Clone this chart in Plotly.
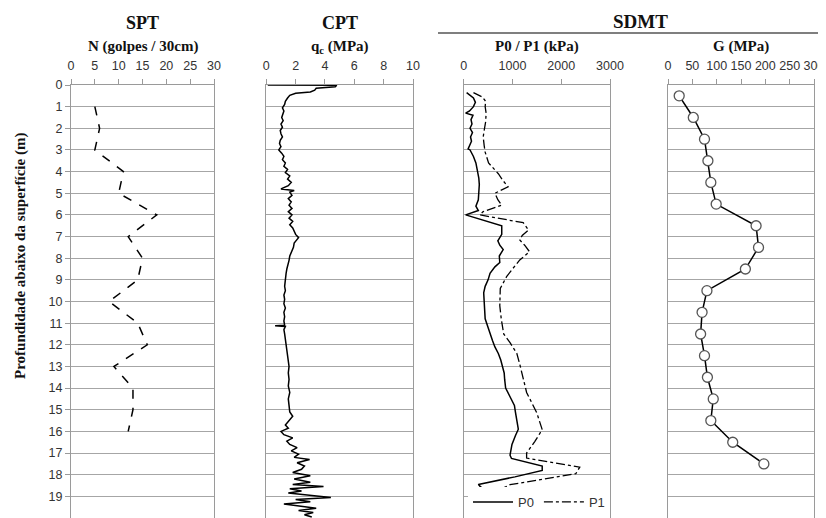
import plotly.graph_objects as go

# ---------------- DATA ----------------
spt_depth = [1, 2, 3, 4, 5, 6, 7, 8, 9, 10, 11, 12, 13, 14, 15, 16]
spt_n = [5, 6, 5, 11, 10, 18, 12, 15, 14, 8, 14, 16, 9, 13, 13, 12]

cpt_depth = [0.00, 0.01, 0.08, 0.15, 0.24, 0.32, 0.38, 0.48, 0.60, 0.75, 0.90, 1.05, 1.20, 1.35,
             1.50, 1.65, 1.80, 1.95, 2.10, 2.25, 2.40, 2.55, 2.70, 2.85, 3.00, 3.15, 3.30, 3.45,
             3.60, 3.75, 3.90, 4.05, 4.20, 4.35, 4.50, 4.65, 4.80, 4.87, 4.95, 5.10, 5.25, 5.40,
             5.55, 5.70, 5.85, 6.00, 6.15, 6.30, 6.45, 6.60, 6.75, 6.90, 7.05, 7.15, 7.30, 7.50,
             7.70, 7.90, 8.10, 8.30, 8.50, 8.70, 8.90, 9.10, 9.30, 9.50, 9.70, 9.90, 10.10, 10.30,
             10.50, 10.70, 10.90, 11.10, 11.12, 11.15, 11.30, 11.50, 11.80, 12.10, 12.40, 12.70,
             13.00, 13.30, 13.60, 13.90, 14.20, 14.50, 14.80, 15.10, 15.30, 15.50, 15.70, 15.85,
             16.00, 16.15, 16.30, 16.45, 16.60, 16.75, 16.90, 17.05, 17.20, 17.30, 17.45, 17.60,
             17.75, 17.90, 18.05, 18.20, 18.35, 18.45, 18.55, 18.65, 18.75, 18.85, 18.95, 19.05,
             19.15, 19.25, 19.35, 19.45, 19.55, 19.65, 19.75, 19.85, 19.95]
cpt_qc = [0.1, 4.8, 4.7, 3.4, 3.3, 3.0, 2.0, 1.6, 1.45, 1.3, 1.25, 1.1, 1.2, 1.1,
          1.05, 1.15, 1.0, 1.1, 0.95, 1.0, 1.1, 0.95, 0.9, 1.0, 0.85, 1.05, 1.2, 1.1,
          1.3, 1.2, 1.45, 1.3, 1.6, 1.45, 1.7, 1.5, 1.0, 1.9, 1.6, 1.75, 1.5, 1.7,
          1.55, 1.75, 1.5, 1.75, 1.55, 1.8, 1.6, 1.8, 1.9, 2.0, 2.2, 2.1, 1.9, 1.85,
          1.7, 1.6, 1.55, 1.45, 1.4, 1.35, 1.3, 1.3, 1.25, 1.3, 1.2, 1.25, 1.2, 1.3,
          1.2, 1.25, 1.2, 1.25, 0.6, 1.3, 1.2, 1.25, 1.3, 1.35, 1.4, 1.45,
          1.55, 1.5, 1.55, 1.5, 1.6, 1.5, 1.55, 1.6, 1.8, 1.55, 1.3, 1.5,
          1.0, 1.2, 1.8, 1.4, 1.6, 2.1, 1.7, 2.2, 1.9, 2.95, 2.1, 2.6,
          2.4, 1.8, 3.0, 1.9, 3.0, 1.8, 3.9, 1.6, 2.4, 1.5, 3.0, 4.4,
          2.0, 3.0, 1.2, 2.2, 3.4, 2.2, 3.2, 2.6, 3.1]

p0_depth = [0.35, 0.6, 0.8, 1.0, 1.2, 1.3, 1.4, 1.6, 1.8, 2.0, 2.2, 2.4, 2.6, 2.8, 2.95, 3.0,
            3.3, 3.6, 4.0, 4.3, 4.6, 5.0, 5.3, 5.6, 5.8, 6.0, 6.5, 6.9, 7.2, 7.4, 7.6, 7.9,
            8.2, 8.4, 8.7, 9.0, 9.3, 9.6, 10.2, 10.8, 11.2, 11.5, 11.8, 12.1, 12.4, 12.7,
            13.0, 13.3, 13.6, 14.0, 14.4, 14.8, 15.1, 15.5, 15.9, 16.2, 16.6, 17.1, 17.25,
            17.6, 17.8, 18.1, 18.45, 18.6, 18.55]
p0_kpa = [60, 200, 240, 200, 120, 40, 190, 150, 170, 130, 180, 140, 160, 120, 90, 130,
          200, 250, 290, 310, 320, 310, 300, 250, 300, 40, 780, 780, 700, 740, 810, 730,
          740, 640, 540, 500, 440, 410, 430, 440, 500, 540, 590, 640, 710, 760,
          800, 830, 840, 860, 950, 1040, 1060, 1090, 1120, 1060, 990, 950, 980,
          1610, 1610, 1050, 300, 370, 320]

p1_depth = [0.35, 0.55, 0.75, 1.0, 1.3, 1.7, 2.1, 2.4, 2.8, 3.1, 3.6, 4.1, 4.4, 4.7, 5.0, 5.3,
            5.55, 5.85, 6.0, 6.36, 6.7, 6.95, 7.16, 7.4, 7.7, 8.08, 8.5, 8.85, 9.4, 10.2,
            10.8, 11.5, 11.9, 12.4, 12.9, 13.3, 14.2, 15.15, 15.6, 15.92, 16.46, 17.0, 17.23,
            17.65, 17.95, 18.25, 18.46, 18.62]
p1_kpa = [200, 380, 450, 440, 460, 450, 420, 400, 420, 440, 510, 710, 800, 910, 640, 700,
          780, 400, 330, 1220, 1330, 1200, 1150, 1250, 1350, 1150, 1000, 880, 750, 740,
          770, 820, 950, 1090, 1150, 1190, 1290, 1500, 1560, 1610, 1460, 1290, 1290,
          2380, 2300, 1500, 950, 810]

g_depth = [0.5, 1.5, 2.5, 3.5, 4.5, 5.5, 6.5, 7.5, 8.5, 9.5, 10.5, 11.5, 12.5, 13.5, 14.5,
           15.5, 16.5, 17.5]
g_mpa = [23, 52, 75, 82, 88, 99, 181, 186, 159, 80, 70, 67, 75, 81, 93, 88, 133, 197]

y_ticks = list(range(0, 21))

# ---------------- LAYOUT ----------------
# The page body has an 8px margin, so the figure is drawn 8px right/down of the page origin.
OFF = 8
W, H = 826 - OFF, 518 - OFF
ML, MT, MB = 71 - OFF, 85 - OFF, 0
MR = W - (814 - OFF)
PW = W - ML - MR
PH = H - MT - MB


def px_x(p):  # page pixel -> paper x
    return (p - OFF - ML) / PW


def px_y(p):  # page pixel -> paper y
    return (H - MB - (p - OFF)) / PH


domains = [
    [px_x(71), px_x(214)],
    [px_x(266.3), px_x(413)],
    [px_x(463.7), px_x(610)],
    [px_x(668), px_x(814)],
]

GRID = "#a6a6a6"
LINE = "#9a9a9a"
TICKFONT = dict(family="Liberation Sans", size=12.5, color="#333333")
SERIF = "Liberation Serif"

fig = go.Figure()

fig.add_trace(go.Scatter(x=spt_n, y=spt_depth, mode="lines", xaxis="x", yaxis="y",
                         line=dict(color="black", width=1.5, dash="dash"), showlegend=False))
fig.add_trace(go.Scatter(x=cpt_qc, y=cpt_depth, mode="lines", xaxis="x2", yaxis="y2",
                         line=dict(color="black", width=1.5), showlegend=False))
fig.add_trace(go.Scatter(x=p0_kpa, y=p0_depth, mode="lines", xaxis="x3", yaxis="y3",
                         name="P0", line=dict(color="black", width=1.5)))
fig.add_trace(go.Scatter(x=p1_kpa, y=p1_depth, mode="lines", xaxis="x3", yaxis="y3",
                         name="P1", line=dict(color="black", width=1.3, dash="dashdot")))
fig.add_trace(go.Scatter(x=g_mpa, y=g_depth, mode="lines+markers", xaxis="x4", yaxis="y4",
                         line=dict(color="black", width=1.5),
                         marker=dict(symbol="circle", size=10, color="white",
                                     line=dict(color="#555555", width=1.3)),
                         showlegend=False))

x_specs = [(30, 5), (10, 2), (3000, 1000), (300, 50)]
layout_axes = {}
for i, ((xmax, dt), dom) in enumerate(zip(x_specs, domains)):
    sfx = "" if i == 0 else str(i + 1)
    ysfx = "y" if i == 0 else "y" + str(i + 1)
    xsfx = "x" if i == 0 else "x" + str(i + 1)
    layout_axes["xaxis" + sfx] = dict(
        domain=dom, range=[0, xmax], side="top", anchor=ysfx, dtick=dt, tick0=0,
        showgrid=False, zeroline=False, showline=True, linecolor=LINE, linewidth=1,
        ticks="outside", ticklen=5, tickcolor=LINE, tickfont=TICKFONT, automargin=False,
        ticklabelstandoff=4,
    )
    layout_axes["yaxis" + sfx] = dict(
        domain=[0, 1], range=[20, 0], anchor=xsfx, tickvals=y_ticks,
        showgrid=True, gridcolor=GRID, gridwidth=1, zeroline=False,
        showline=True, mirror=True, linecolor=LINE, linewidth=1,
        ticks="outside" if i == 0 else "", ticklen=5, tickcolor=LINE,
        showticklabels=(i == 0), tickfont=TICKFONT, automargin=False,
    )

annotations = []
titles = [("SPT", "N (golpes / 30cm)"), ("CPT", "q<sub>c</sub> (MPa)"),
          (None, "P0 / P1 (kPa)"), (None, "G (MPa)")]
for (top, sub), dom in zip(titles, domains):
    cx = (dom[0] + dom[1]) / 2
    if top:
        annotations.append(dict(text="<b>" + top + "</b>", x=cx, y=px_y(23), xref="paper",
                                yref="paper", showarrow=False, xanchor="center",
                                yanchor="middle", font=dict(family=SERIF, size=18, color="#111")))
    annotations.append(dict(text="<b>" + sub + "</b>", x=cx, y=px_y(47), xref="paper",
                            yref="paper", showarrow=False, xanchor="center", yanchor="middle",
                            font=dict(family=SERIF, size=15, color="#111")))

annotations.append(dict(text="<b>SDMT</b>", x=px_x(640), y=px_y(22), xref="paper", yref="paper",
                        showarrow=False, xanchor="center", yanchor="middle",
                        font=dict(family=SERIF, size=19, color="#111")))
annotations.append(dict(text="<b>Profundidade abaixo da superfície (m)</b>", x=px_x(20),
                        y=px_y(256), xref="paper", yref="paper", showarrow=False,
                        textangle=-90, xanchor="center", yanchor="middle",
                        font=dict(family=SERIF, size=15, color="#111")))

shapes = [dict(type="line", xref="paper", yref="paper", x0=px_x(438), x1=px_x(826),
               y0=px_y(33), y1=px_y(33), line=dict(color="black", width=1.2))]

fig.update_layout(
    width=W, height=H, margin=dict(l=ML, r=MR, t=MT, b=MB, autoexpand=False),
    paper_bgcolor="white", plot_bgcolor="white",
    annotations=annotations, shapes=shapes,
    legend=dict(orientation="h", x=px_x(468), y=px_y(502), xanchor="left", yanchor="middle",
                bgcolor="white", font=dict(family="Liberation Sans", size=13, color="#333"),
                itemwidth=40, tracegroupgap=0),
    **layout_axes,
)

fig.write_html("out.html")
